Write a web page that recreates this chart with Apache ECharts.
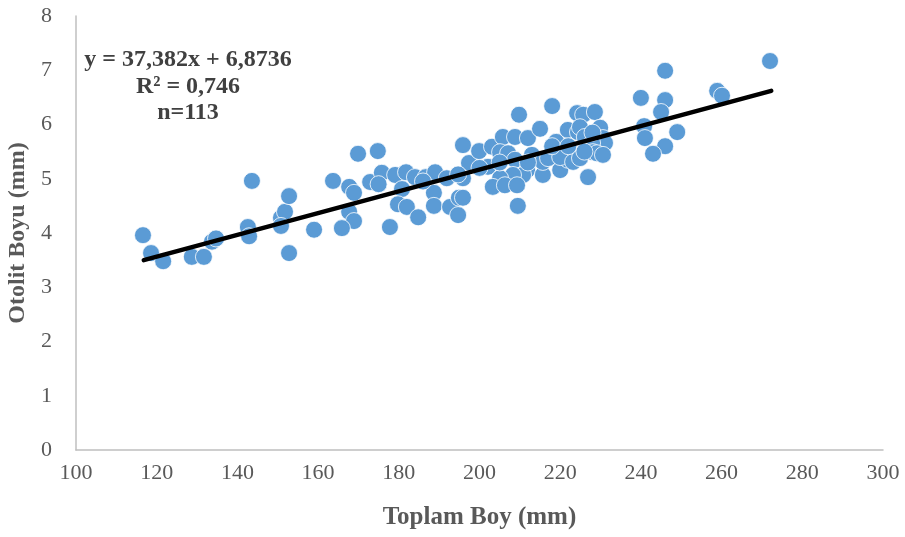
<!DOCTYPE html>
<html>
<head>
<meta charset="utf-8">
<script src="https://cdn.jsdelivr.net/npm/echarts@6/dist/echarts.min.js"></script>
<style>
  html, body { margin: 0; padding: 0; background: #ffffff; }
  #chart { width: 905px; height: 537px; }
</style>
</head>
<body>
<div id="chart"></div>
<script>
// Total length (mm) of each fish
const toplamBoy = [
  116.6, 118.6, 121.6, 128.7, 131.7, 133.7, 134.7, 142.6, 142.9, 143.6,
  150.8, 151.8, 150.8, 152.8, 152.8, 159.0,
  163.7, 169.9, 174.8, 167.7, 168.9, 167.7, 168.9, 165.9, 172.9, 175.8,
  179.1, 181.8, 184.0, 180.8, 179.8, 182.0, 184.8, 177.8, 186.7, 189.0,
  191.9, 188.7, 188.7, 192.7, 194.9, 195.9, 194.7, 195.9, 197.4, 195.9,
  194.7,
  199.9, 203.1, 205.8, 208.8, 209.8, 212.0, 215.0, 218.0, 219.0, 221.9,
  224.2, 224.4, 202.1, 205.1, 207.1, 208.8, 213.0, 211.8, 215.7, 210.8,
  208.3, 205.1, 203.3, 206.3, 209.3, 209.5, 215.7, 217.0, 220.0, 221.9,
  220.0,
  225.7, 228.6,
  224.9, 229.9, 226.1, 230.6, 231.1, 227.9, 223.2, 224.9, 228.1, 229.1,
  230.6, 226.9,
  246.0, 240.0, 246.0, 245.0, 240.8, 241.0, 249.0, 246.0, 243.0, 258.9,
  260.1, 272.0,
  205.0, 212.0, 218.0, 222.0, 226.0, 200.0, 186.0, 175.0, 228.0
];

// Otolith length (mm) of each fish
const otolitBoyu = [
  3.96, 3.63, 3.48, 3.56, 3.56, 3.84, 3.90, 4.11, 3.94, 4.96,
  4.28, 4.39, 4.13, 4.68, 3.63, 4.06,
  4.96, 5.46, 5.51, 4.85, 4.74, 4.39, 4.22, 4.09, 4.94, 5.11,
  5.07, 5.12, 5.03, 4.81, 4.53, 4.48, 4.29, 4.11, 5.03, 5.12,
  5.01, 4.74, 4.50, 4.48, 4.65, 4.65, 4.33, 5.62, 5.29, 5.01,
  5.08,
  5.51, 5.59, 5.77, 5.77, 6.18, 5.75, 5.92, 6.34, 5.68, 5.90,
  6.21, 5.86, 5.22, 5.49, 5.47, 5.35, 5.44, 5.16, 5.07, 5.07,
  5.07, 5.01, 4.85, 4.88, 4.88, 4.50, 5.31, 5.38, 5.16, 5.35,
  5.40,
  6.18, 6.23,
  5.95, 5.94, 5.77, 5.75, 5.66, 5.66, 5.31, 5.38, 5.49, 5.47,
  5.44, 5.03,
  6.99, 6.49, 6.45, 6.23, 5.97, 5.75, 5.86, 5.60, 5.46, 6.62,
  6.53, 7.17,
  5.30, 5.30, 5.60, 5.60, 5.50, 5.20, 4.95, 4.90, 5.85
];

// Linear trend line end points
const trendX = [116.8, 272.3];
const trendY = [3.50, 6.62];

// Axis ticks
const xTicks = [100, 120, 140, 160, 180, 200, 220, 240, 260, 280, 300];
const yTicks = [0, 1, 2, 3, 4, 5, 6, 7, 8];

// Equation text shown on the plot
const equationLines = ['y = 37,382x + 6,8736', 'R² = 0,746', 'n=113'];

const points = toplamBoy.map((x, i) => [x, otolitBoyu[i]]);
const trend = trendX.map((x, i) => [x, trendY[i]]);

const serif = '"Liberation Serif", "DejaVu Serif", serif';
const chart = echarts.init(document.getElementById('chart'), null, { renderer: 'canvas' });

chart.setOption({
  animation: false,
  backgroundColor: '#ffffff',
  grid: { left: 76, right: 22, top: 16, bottom: 87, containLabel: false, outerBoundsMode: 'none' },
  xAxis: {
    type: 'value',
    min: xTicks[0],
    max: xTicks[xTicks.length - 1],
    interval: xTicks[1] - xTicks[0],
    name: 'Toplam Boy (mm)',
    nameLocation: 'middle',
    nameGap: 55,
    nameTextStyle: { fontFamily: serif, fontSize: 25, fontWeight: 'bold', color: '#595959' },
    axisLine: { show: true, lineStyle: { color: '#bfbfbf', width: 1.5 } },
    axisTick: { show: false },
    splitLine: { show: false },
    axisLabel: { fontFamily: serif, fontSize: 22, color: '#595959', margin: 12 }
  },
  yAxis: {
    type: 'value',
    min: yTicks[0],
    max: yTicks[yTicks.length - 1],
    interval: 1,
    name: 'Otolit Boyu (mm)',
    nameLocation: 'middle',
    nameGap: 38,
    nameTextStyle: { fontFamily: serif, fontSize: 24, fontWeight: 'bold', color: '#595959' },
    axisLine: { show: true, lineStyle: { color: '#bfbfbf', width: 1.5 } },
    axisTick: { show: false },
    splitLine: { show: false },
    axisLabel: { fontFamily: serif, fontSize: 22, color: '#595959', margin: 24 }
  },
  series: [
    {
      type: 'scatter',
      data: points,
      symbol: 'circle',
      symbolSize: 17,
      itemStyle: { color: '#5b9bd5', borderColor: '#ffffff', borderWidth: 0.8, opacity: 1 },
      z: 2
    },
    {
      type: 'line',
      data: trend,
      showSymbol: false,
      symbol: 'none',
      lineStyle: { color: '#000000', width: 4.5, cap: 'round' },
      z: 3
    }
  ],
  graphic: equationLines.map((t, i) => ({
    type: 'text',
    x: 188,
    y: 60 + i * 26.5,
    style: {
      text: t,
      fontFamily: serif,
      fontSize: 24,
      fontWeight: 'bold',
      fill: '#404040',
      textAlign: 'center',
      textVerticalAlign: 'middle'
    },
    z: 10
  }))
});
</script>
</body>
</html>
